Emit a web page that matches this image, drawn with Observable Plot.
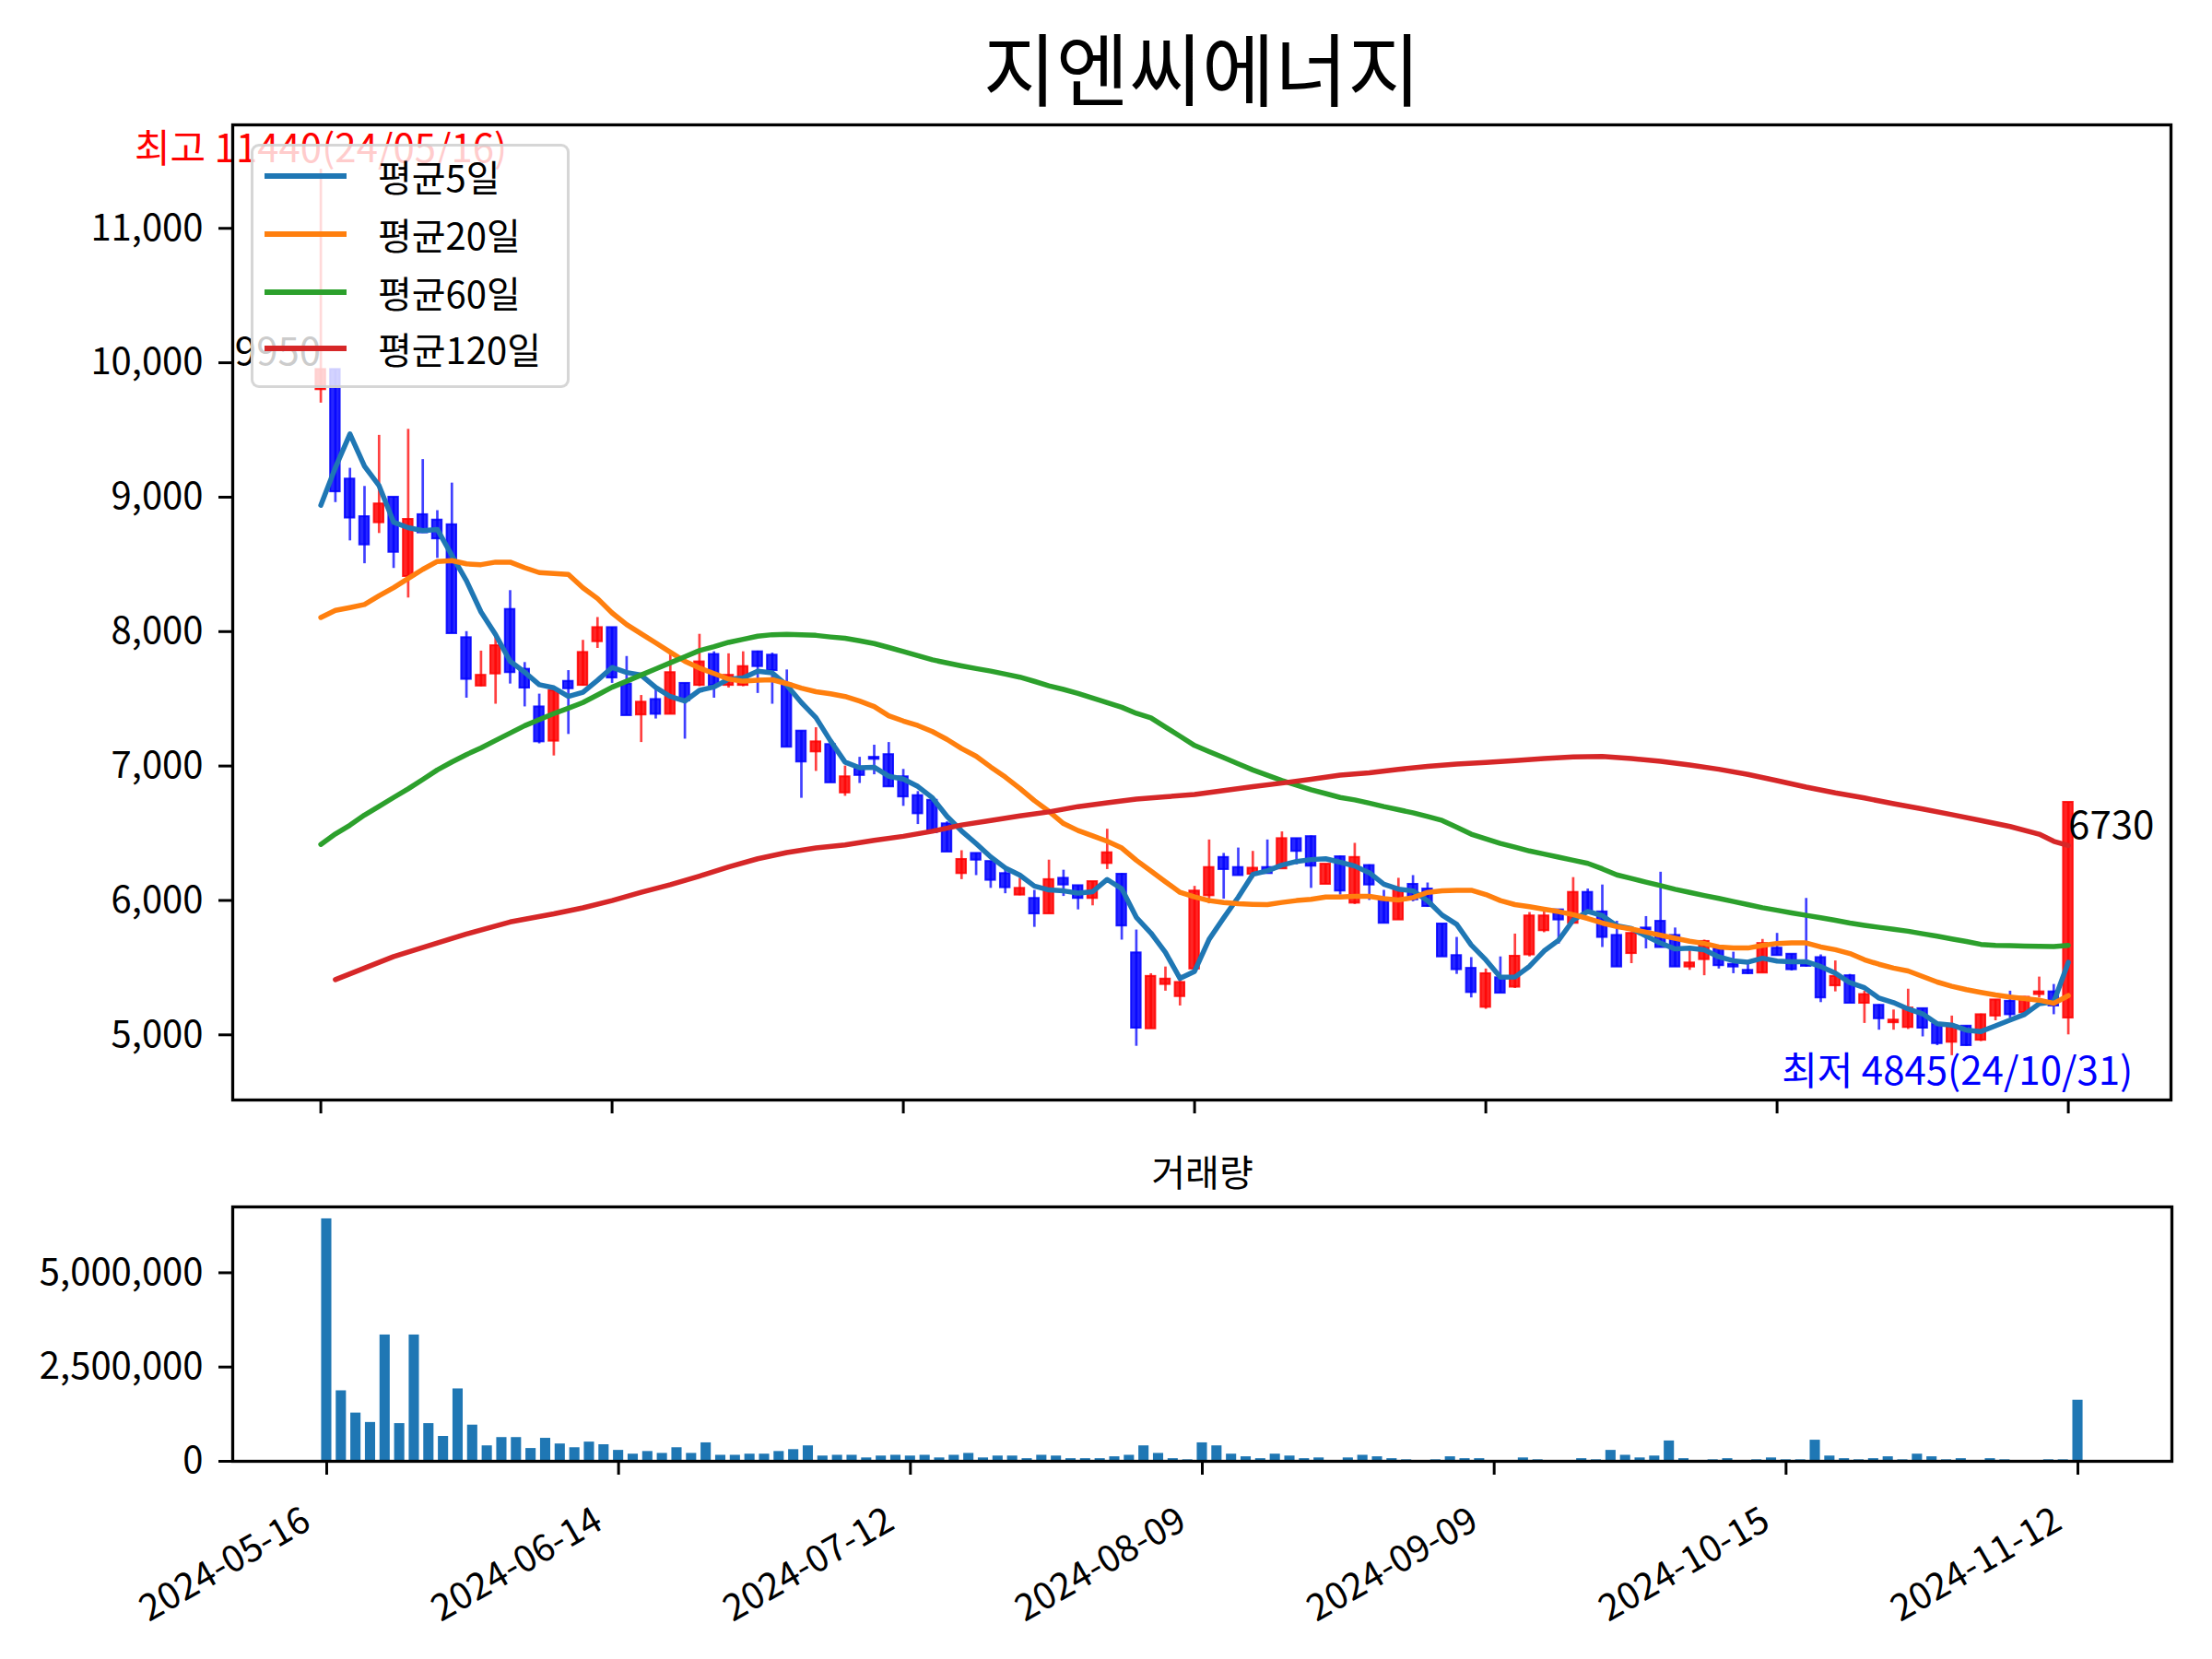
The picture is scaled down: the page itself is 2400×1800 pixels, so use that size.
<!DOCTYPE html>
<html>
<head>
<meta charset="utf-8">
<script src="https://cdn.jsdelivr.net/npm/d3@7"></script>
<script src="https://cdn.jsdelivr.net/npm/@observablehq/plot@0.6"></script>
<style>
html, body { margin: 0; padding: 0; background: #fff; }
#wrap { position: relative; width: 2400px; height: 1800px; background: #fff; overflow: hidden;
  font-family: 'Noto Sans CJK KR', 'Noto Sans', sans-serif; }
#main, #vol { position: absolute; left: 0; }
#main { top: 0; }
#vol { top: 1230px; }
#legend { position: absolute; left: 272px; top: 156px; width: 346px; height: 265px; box-sizing: border-box;
  background: rgba(255,255,255,0.8); border: 3px solid rgba(204,204,204,0.8); border-radius: 9px; }
.lrow { position: absolute; left: 0; height: 50px; width: 100%; }
.lsw { position: absolute; left: 12px; top: 22px; width: 89px; height: 6px; }
.ltx { position: absolute; left: 135px; top: 0; height: 50px; line-height: 50px; font-size: 40px; color: #000; white-space: nowrap; }
</style>
</head>
<body>
<div id="wrap">
  <div id="main"></div>
  <div id="vol"></div>
  <div id="legend"></div>
</div>
<script>
// ---------------- data ----------------
const chartTitle = "지엔씨에너지";
const volumeTitle = "거래량";
const tickIdx = [0, 20, 40, 60, 80, 100, 120];
const tickLabels = ["2024-05-16", "2024-06-14", "2024-07-12", "2024-08-09", "2024-09-09", "2024-10-15", "2024-11-12"];
const priceTicks = [5000, 6000, 7000, 8000, 9000, 10000, 11000];
const volumeTicks = [0, 2500000, 5000000];

const open = [9800,9950,9135,8855,8810,9000,8410,8870,8830,8795,
7955,7595,7685,8165,7720,7440,7185,7630,7600,7925,
8030,7610,7380,7495,7385,7615,7600,7830,7600,7600,
7850,7825,7610,7260,7105,7160,6800,6980,7065,7085,
6920,6780,6745,6570,6200,6350,6290,6200,6040,6015,
5900,6165,6110,6015,6275,6195,5610,5045,5375,5285,
5490,6035,6320,6245,6195,6245,6235,6460,6475,6120,
6325,5980,6260,6015,5855,6120,6085,5825,5590,5495,
5205,5425,5355,5595,5775,5930,5830,6060,5915,5740,
5605,5795,5845,5740,5505,5560,5640,5525,5480,5460,
5645,5600,5525,5575,5365,5440,5235,5220,5090,5055,
5195,5080,4945,5065,4960,5140,5250,5165,5300,5320,
5125];
const high = [11440,9950,9215,9080,9460,9000,9505,9280,8900,9105,
8000,7855,7965,8305,7770,7535,7565,7710,7935,8105,
8030,7815,7525,7575,7835,7615,7980,7850,7835,7850,
7855,7840,7715,7260,7285,7165,7000,7065,7155,7175,
6975,6810,6745,6585,6370,6350,6290,6235,6165,6075,
6300,6225,6110,6140,6530,6200,5780,5455,5505,5445,
6105,6450,6350,6390,6365,6450,6510,6460,6480,6270,
6330,6425,6265,6075,6165,6185,6130,5825,5725,5575,
5490,5580,5750,5910,5935,5930,6170,6085,6115,5845,
5760,5880,6210,5795,5625,5705,5640,5615,5535,5710,
5755,5600,6015,5595,5550,5450,5325,5225,5185,5340,
5195,5080,5140,5065,5155,5260,5325,5285,5430,5375,
6730];
const low = [9700,8960,8675,8505,8730,8470,8250,8735,8545,7985,
7505,7590,7460,7610,7440,7165,7075,7235,7595,7875,
7615,7375,7175,7350,7385,7200,7590,7505,7580,7590,
7540,7460,7140,6760,6960,6875,6775,6870,6935,6845,
6700,6565,6505,6360,6155,6185,6090,6050,6035,5800,
5900,6030,5930,5960,6230,5705,4915,5045,5325,5215,
5490,5975,6010,6185,6165,6195,6235,6265,6090,6120,
6040,5970,6000,5830,5855,5990,5950,5580,5450,5275,
5190,5310,5345,5580,5760,5675,5830,5905,5650,5505,
5530,5640,5650,5505,5480,5440,5490,5455,5450,5460,
5590,5475,5505,5240,5320,5235,5085,5035,5035,5040,
4985,4920,4845,4915,4950,5105,5125,5160,5275,5150,
5000];
const close = [9950,9040,8845,8645,8950,8590,8835,8735,8690,7985,
7645,7675,7895,7695,7580,7180,7560,7575,7845,8030,
7655,7375,7475,7385,7695,7485,7775,7600,7675,7740,
7740,7710,7140,7030,7180,6875,6920,6930,7050,6845,
6770,6645,6505,6360,6305,6300,6150,6095,6090,5900,
6155,6115,6015,6140,6355,5810,5050,5435,5415,5390,
6070,6245,6230,6185,6240,6200,6460,6365,6255,6270,
6070,6320,6115,5830,6085,6005,5955,5580,5485,5315,
5455,5310,5585,5885,5885,5855,6060,5910,5725,5505,
5755,5780,5650,5505,5535,5695,5515,5505,5455,5680,
5590,5485,5510,5275,5435,5235,5300,5120,5110,5200,
5050,4935,5070,4920,5150,5260,5150,5280,5320,5215,
6730];
const volume = [6430000,1870000,1280000,1030000,3350000,1000000,3350000,1000000,660000,1920000,
960000,410000,630000,630000,340000,610000,460000,360000,510000,440000,
290000,190000,260000,210000,360000,210000,490000,160000,160000,190000,
190000,260000,310000,410000,140000,160000,160000,90000,140000,160000,
140000,160000,90000,160000,210000,90000,140000,140000,70000,160000,
140000,70000,70000,70000,120000,160000,410000,210000,70000,40000,
490000,410000,190000,120000,70000,190000,140000,70000,90000,20000,
90000,160000,120000,70000,40000,20000,40000,120000,70000,70000,
20000,20000,90000,40000,10000,10000,70000,40000,290000,160000,
90000,140000,540000,70000,20000,40000,70000,20000,40000,90000,
40000,40000,560000,140000,70000,40000,70000,120000,40000,190000,
120000,40000,70000,20000,70000,40000,20000,20000,40000,40000,
1620000];
const ma5 = [8940,9220,9470,9230,9086,8814,8773,8751,8760,8567,
8378,8146,7978,7779,7698,7605,7582,7518,7548,7638,
7733,7696,7676,7584,7517,7483,7563,7588,7646,7655,
7706,7693,7601,7472,7360,7187,7029,6987,6991,6924,
6903,6848,6763,6625,6517,6423,6324,6242,6188,6107,
6078,6071,6055,6065,6156,6087,5874,5758,5613,5420,
5472,5711,5870,6024,6194,6220,6263,6290,6304,6310,
6284,6256,6206,6121,6084,6071,5998,5891,5822,5668,
5558,5429,5430,5510,5624,5704,5854,5919,5887,5811,
5791,5735,5683,5639,5645,5633,5580,5551,5541,5570,
5549,5543,5544,5508,5459,5388,5351,5273,5240,5193,
5156,5083,5073,5035,5025,5067,5110,5152,5232,5245,
5539];
const ma20 = [8105,8158,8179,8202,8267,8327,8395,8463,8522,8528,
8504,8498,8517,8517,8475,8439,8433,8425,8326,8246,
8139,8052,7984,7916,7847,7779,7729,7688,7647,7631,
7638,7642,7613,7579,7553,7537,7517,7483,7442,7374,
7335,7301,7256,7198,7130,7073,6993,6918,6834,6743,
6663,6572,6520,6481,6440,6390,6299,6219,6139,6060,
6026,5999,5985,5975,5971,5969,5985,5999,6008,6026,
6026,6030,6030,6014,6003,6021,6060,6071,6076,6076,
6044,5999,5969,5953,5935,5917,5894,5866,5832,5805,
5787,5764,5741,5719,5696,5680,5654,5646,5646,5666,
5680,5684,5684,5654,5634,5605,5559,5525,5497,5475,
5434,5393,5361,5336,5316,5297,5281,5270,5258,5234,
5292];
const ma60 = [6417,6495,6560,6635,6700,6766,6830,6900,6971,7030,
7085,7135,7190,7245,7300,7345,7390,7430,7472,7529,
7586,7631,7677,7722,7768,7813,7859,7888,7920,7943,
7966,7977,7980,7977,7972,7960,7950,7932,7911,7882,
7852,7821,7790,7767,7745,7725,7706,7684,7661,7630,
7597,7570,7540,7506,7472,7437,7392,7358,7290,7222,
7153,7107,7062,7016,6971,6931,6892,6857,6823,6795,
6766,6748,6724,6698,6675,6652,6624,6595,6545,6493,
6458,6424,6396,6368,6345,6322,6299,6276,6235,6190,
6163,6136,6110,6083,6060,6037,6015,5992,5969,5946,
5927,5907,5889,5871,5852,5832,5815,5800,5786,5771,
5752,5734,5714,5695,5673,5666,5663,5661,5659,5657,
5666];
const ma120Idx = [1,3,5,8,10,13,16,18,20,22,24,26,28,30,32,34,36,38,40,42,44,46,48,50,52,54,56,58,60,62,64,66,68,70,72,74,76,78,80,82,84,86,88,90,92,94,96,98,100,102,104,106,108,110,112,114,116,118,119,120];
const ma120 = [5411,5497,5582,5684,5750,5840,5900,5945,5999,6060,6117,6181,6249,6310,6356,6390,6413,6447,6477,6515,6561,6595,6629,6659,6698,6727,6754,6771,6788,6818,6846,6873,6902,6932,6950,6975,6997,7015,7026,7040,7056,7067,7071,7055,7035,7008,6976,6937,6891,6843,6800,6762,6720,6680,6638,6595,6550,6493,6440,6409];

const maNames = ["평균5일", "평균20일", "평균60일", "평균120일"];
const maColors = ["#1f77b4", "#ff7f0e", "#2ca02c", "#d62728"];
const upColor = "#ff0000", downColor = "#0000ff";
const maxLabel = "최고 11440(24/05/16)", maxIdx = 0, maxVal = 11440;
const minLabel = "최저 4845(24/10/31)", minIdx = 112, minVal = 4845;
const firstLabel = "9950", lastLabel = "6730";

// ---------------- build tables ----------------
const candles = close.map((c, i) => ({i, o: open[i], h: high[i], l: low[i], c, up: c >= open[i]}));
const line5 = ma5.map((v, i) => ({i, v}));
const line20 = ma20.map((v, i) => ({i, v}));
const line60 = ma60.map((v, i) => ({i, v}));
const line120 = ma120.map((v, k) => ({i: ma120Idx[k], v}));
const vols = volume.map((v, i) => ({i, v}));
const colorOf = d => d.up ? upColor : downColor;
const FS = 40, FA = 42;

const main = Plot.plot({
  width: 2400, height: 1230,
  marginLeft: 252, marginRight: 45, marginTop: 135, marginBottom: 37,
  style: {fontFamily: "'Noto Sans CJK KR', sans-serif", fontSize: FS + "px", background: "transparent", color: "#000", overflow: "visible"},
  x: {domain: [-6.05, 127.05], label: null},
  y: {domain: [4515.25, 11769.75], label: null},
  marks: [
    Plot.ruleX(candles, {x: "i", y1: "l", y2: "h", stroke: colorOf, strokeWidth: 2.7, strokeOpacity: 0.75}),
    Plot.rect(candles, {x1: d => d.i - 0.33, x2: d => d.i + 0.33, y1: "o", y2: "c", fill: colorOf, stroke: colorOf,
      fillOpacity: 0.85, strokeOpacity: 0.85, strokeWidth: 2}),
    Plot.line(line5, {x: "i", y: "v", stroke: maColors[0], strokeWidth: 5.5}),
    Plot.line(line20, {x: "i", y: "v", stroke: maColors[1], strokeWidth: 5.5}),
    Plot.line(line60, {x: "i", y: "v", stroke: maColors[2], strokeWidth: 5.5}),
    Plot.line(line120, {x: "i", y: "v", stroke: maColors[3], strokeWidth: 5.5}),
    Plot.text([maxLabel], {x: () => maxIdx, y: () => maxVal, text: d => d, fill: upColor, fontSize: FA,
      textAnchor: "middle", lineAnchor: "bottom", dy: -8}),
    Plot.text([firstLabel], {x: () => 0, y: () => close[0], text: d => d, fill: "#000", fontSize: FA,
      textAnchor: "end", lineAnchor: "bottom", dy: -5}),
    Plot.text([lastLabel], {x: () => 120, y: () => close[120], text: d => d, fill: "#000", fontSize: FA,
      textAnchor: "start", lineAnchor: "top", dy: 10}),
    Plot.text([minLabel], {x: () => minIdx, y: () => minVal, text: d => d, fill: downColor, fontSize: FA,
      textAnchor: "middle", lineAnchor: "top", dy: 2, dx: 6}),
    Plot.text([chartTitle], {frameAnchor: "top", text: d => d, fill: "#000", fontSize: 86,
      textAnchor: "middle", lineAnchor: "bottom", dy: -27}),
    Plot.axisY({ticks: priceTicks, tickFormat: d3.format(","), tickSize: 15, tickPadding: 17, strokeWidth: 3, label: null, fontSize: FS}),
    Plot.axisX({ticks: tickIdx, tickFormat: () => "", tickSize: 15, strokeWidth: 3, label: null}),
    Plot.frame({stroke: "#000", strokeWidth: 3.3})
  ]
});
document.getElementById("main").appendChild(main);

const vol = Plot.plot({
  width: 2400, height: 570,
  marginLeft: 252, marginRight: 44, marginTop: 79, marginBottom: 215,
  style: {fontFamily: "'Noto Sans CJK KR', sans-serif", fontSize: FS + "px", background: "transparent", color: "#000", overflow: "visible"},
  x: {domain: [-6.44, 126.44], label: null},
  y: {domain: [0, 6746000], label: null},
  marks: [
    Plot.rect(vols, {x1: d => d.i - 0.35, x2: d => d.i + 0.35, y1: () => 0, y2: "v", fill: maColors[0]}),
    Plot.text([volumeTitle], {frameAnchor: "top", text: d => d, fill: "#000", fontSize: FS,
      textAnchor: "middle", lineAnchor: "bottom", dy: -23}),
    Plot.axisY({ticks: volumeTicks, tickFormat: d3.format(","), tickSize: 15, tickPadding: 17, strokeWidth: 3, label: null, fontSize: FS}),
    Plot.axisX({ticks: tickIdx, tickFormat: () => "", tickSize: 15, strokeWidth: 3, label: null}),
    Plot.text(tickIdx, {x: d => d, frameAnchor: "bottom", text: (d, k) => tickLabels[k], fill: "#000", fontSize: FS,
      rotate: -30, textAnchor: "end", lineAnchor: "bottom", dx: -15, dy: 72}),
    Plot.frame({stroke: "#000", strokeWidth: 3.3})
  ]
});
document.getElementById("vol").appendChild(vol);

// legend (overlay, semi-transparent like matplotlib)
const legend = document.getElementById("legend");
const rowCenters = [32, 95, 158, 219];
maNames.forEach((name, k) => {
  const row = document.createElement("div");
  row.className = "lrow";
  row.style.top = (rowCenters[k] - 25) + "px";
  const sw = document.createElement("div");
  sw.className = "lsw";
  sw.style.background = maColors[k];
  const tx = document.createElement("div");
  tx.className = "ltx";
  tx.textContent = name;
  row.appendChild(sw); row.appendChild(tx);
  legend.appendChild(row);
});
</script>
</body>
</html>
